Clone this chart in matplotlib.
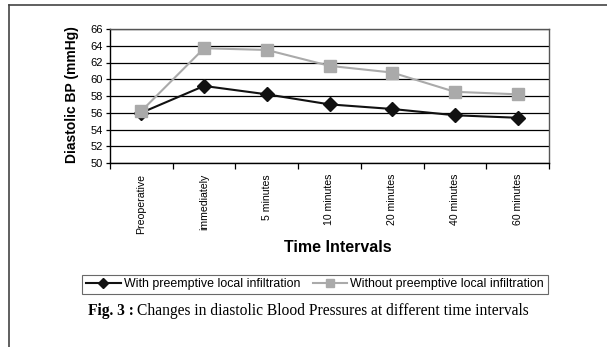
import matplotlib
matplotlib.use("Agg")
import matplotlib.pyplot as plt
from matplotlib.lines import Line2D
import numpy as np

categories = ["Preoperative", "immediately", "5 minutes", "10 minutes",
              "20 minutes", "40 minutes", "60 minutes"]
with_infiltration = [56.0, 59.2, 58.2, 57.0, 56.45, 55.7, 55.4]
without_infiltration = [56.2, 63.7, 63.5, 61.6, 60.8, 58.5, 58.2]
y_ticks = [50, 52, 54, 56, 58, 60, 62, 64, 66]

plt.rcParams['font.family'] = ['Liberation Sans', 'DejaVu Sans']

W, H = 607, 347
fig = plt.figure(figsize=(W / 100, H / 100), dpi=100)
fig.patch.set_facecolor('white')

# outer frame (left and top)
fig.add_artist(Line2D([9 / W, 9 / W], [0, 1 - 5 / H], color='#444444', lw=1.2,
                      transform=fig.transFigure))
fig.add_artist(Line2D([9 / W, 1], [1 - 5 / H, 1 - 5 / H], color='#444444', lw=1.2,
                      transform=fig.transFigure))

ax = fig.add_axes([110 / W, 1 - 163 / H, (549 - 110) / W, (163 - 29) / H])
x = np.arange(len(categories))
ax.plot(x, with_infiltration, color='#111111', lw=1.5, marker='D', markersize=7.5,
        label='With preemptive local infiltration', zorder=3)
ax.plot(x, without_infiltration, color='#aaaaaa', lw=1.5, marker='s', markersize=8,
        label='Without preemptive local infiltration', zorder=3)

ax.set_xlim(-0.5, len(categories) - 0.5)
ax.set_ylim(50, 66)
ax.set_yticks(y_ticks)
ax.set_yticklabels([str(v) for v in y_ticks], fontsize=8)
ax.yaxis.grid(True, color='black', lw=0.9)
ax.set_axisbelow(True)
ax.set_xticks(x)
ax.set_xticklabels(categories, rotation=90, fontsize=7.6, va='top', ha='center')
ax.tick_params(axis='x', which='major', length=0, pad=8)
ax.set_xticks(np.arange(-0.5, len(categories), 1), minor=True)
ax.tick_params(axis='x', which='minor', length=4, width=0.9, direction='out')
ax.tick_params(axis='y', length=3, width=0.9, pad=2)
for s in ['left', 'bottom']:
    ax.spines[s].set_color('black')
    ax.spines[s].set_linewidth(1.0)
for s in ['right', 'top']:
    ax.spines[s].set_color('#555555')
    ax.spines[s].set_linewidth(1.0)

fig.text(72 / W, 1 - 95 / H, 'Diastolic BP (mmHg)', rotation=90, fontsize=10,
         fontweight='bold', ha='center', va='center')
fig.text(338 / W, 1 - 248 / H, 'Time Intervals', fontsize=11.5, fontweight='bold',
         ha='center', va='center')

leg = fig.legend(loc='center', bbox_to_anchor=(315 / W, 1 - 284.5 / H), ncol=2,
                 fontsize=8.9, frameon=True, fancybox=False, edgecolor='#444444',
                 handlelength=2.8, handletextpad=0.25, columnspacing=1.0,
                 borderpad=0.3, markerscale=0.65)
leg.get_frame().set_linewidth(0.8)

t1 = fig.text(88 / W, 1 - 311 / H, 'Fig. 3 :', fontsize=11.2, fontweight='bold',
              family=['Liberation Serif'], va='center', ha='left')
fig.canvas.draw()
bb = t1.get_window_extent()
fig.text((bb.x1 + 3) / W, 1 - 311 / H,
         'Changes in diastolic Blood Pressures at different time intervals',
         fontsize=11.2, family=['Liberation Serif'], va='center', ha='left')

fig.savefig('out.png', dpi=100, facecolor='white')
